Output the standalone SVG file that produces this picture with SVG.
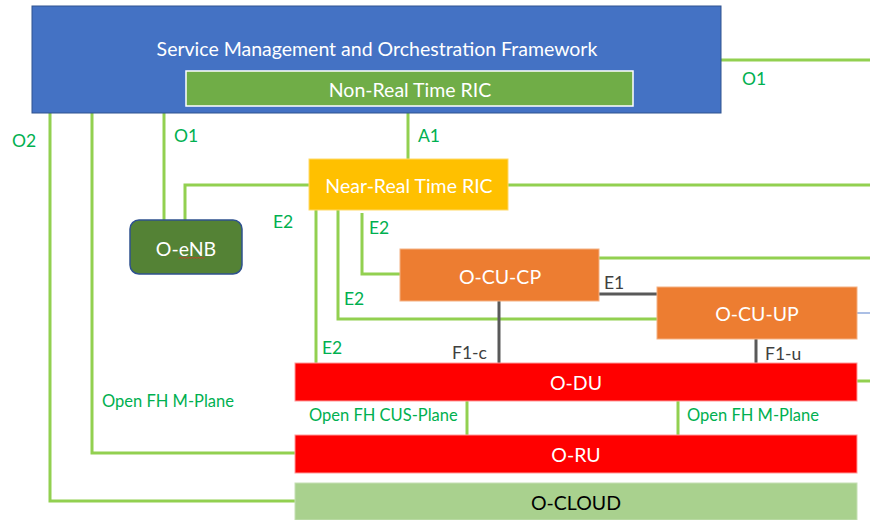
<svg xmlns="http://www.w3.org/2000/svg" width="870" height="520" viewBox="0 0 870 520">
<style>
text{font-family:Lato,"Open Sans","Liberation Sans",sans-serif;}
.nt{fill:#fff;font-size:19.5px;text-anchor:middle;dominant-baseline:central}
.lb{fill:#00B050;font-size:17.5px}
.sl{fill:#00B050;font-size:16.5px}
.gl{fill:#404040;font-size:17.5px}
.g{stroke:#92D050;stroke-width:3;fill:none}
.d{stroke:#595959;stroke-width:3;fill:none}
</style>
<g id="connectors">
<path class="g" d="M720,60H870"/>
<path class="g" d="M50,113V501H296"/>
<path class="g" d="M92,113V453H296"/>
<path class="g" d="M164,113V220"/>
<path class="g" d="M408,113V159"/>
<path class="g" d="M309,185H185V220"/>
<path class="g" d="M508,185H870"/>
<path class="g" d="M316,210V363"/>
<path class="g" d="M338,210V319H657"/>
<path class="g" d="M362,213V274H400"/>
<path class="g" d="M599,258H870"/>
<path class="d" d="M599,294H657"/>
<path d="M857,313H870" stroke="#8FAADC" stroke-width="1.5"/>
<path class="d" d="M499,301V363"/>
<path class="d" d="M756,339V363"/>
<path class="g" d="M857,381H870"/>
<path class="g" d="M467,401V435"/>
<path class="g" d="M678,401V435"/>
<text class="lb" x="742" y="85">O1</text>
<text class="lb" x="12" y="147">O2</text>
<text class="lb" x="174" y="142">O1</text>
<text class="lb" x="418" y="142">A1</text>
<text class="lb" x="273" y="228">E2</text>
<text class="lb" x="369" y="234">E2</text>
<text class="lb" x="344" y="305">E2</text>
<text class="lb" x="322" y="354">E2</text>
<text class="gl" x="604" y="289">E1</text>
<text class="gl" x="452" y="359">F1-c</text>
<text class="gl" x="765" y="360">F1-u</text>
<text class="sl" x="102" y="407">Open FH M-Plane</text>
<text class="sl" x="309" y="421">Open FH CUS-Plane</text>
<text class="sl" x="687" y="421">Open FH M-Plane</text>
</g>
<g id="smo">
<rect x="32" y="6" width="689" height="107" fill="#4472C4" stroke="#2F528F" stroke-width="1"/>
<text class="nt" x="377" y="48">Service Management and Orchestration Framework</text>
</g>
<g id="nonrt">
<rect x="186" y="71" width="447" height="35" fill="#70AD47" stroke="#fff" stroke-width="1.5"/>
<text class="nt" x="410" y="89">Non-Real Time RIC</text>
</g>
<g id="nearrt">
<rect x="309" y="159" width="199" height="51" fill="#FFC000" stroke="#FFD966" stroke-width="1"/>
<text class="nt" x="409" y="185">Near-Real Time RIC</text>
</g>
<g id="oenb">
<rect x="130" y="220" width="112" height="54" rx="9" fill="#548235" stroke="#2F528F" stroke-width="1.5"/>
<text class="nt" x="186" y="248">O-eNB</text>
<path d="M179,258.5l1.5,-1.5l1.5,1.5l1.5,-1.5l1.5,1.5l1.5,-1.5l1.5,1.5l1.5,-1.5l1.5,1.5l1.5,-1.5l1.5,1.5l1.5,-1.5l1.5,1.5l1.5,-1.5l1.5,1.5l1.5,-1.5l1.5,1.5l1.5,-1.5" fill="none" stroke="#E03030" stroke-width="0.8"/>
</g>
<g id="ocucp">
<rect x="400" y="249" width="199" height="52" fill="#ED7D31" stroke="#F4B183" stroke-width="1"/>
<text class="nt" x="500" y="276">O-CU-CP</text>
</g>
<g id="ocuup">
<rect x="657" y="287" width="200" height="52" fill="#ED7D31" stroke="#F4B183" stroke-width="1"/>
<text class="nt" x="757" y="313">O-CU-UP</text>
</g>
<g id="odu">
<rect x="295" y="363" width="562" height="38" fill="#FF0000" stroke="#FF9999" stroke-width="1"/>
<text class="nt" x="576" y="382">O-DU</text>
</g>
<g id="oru">
<rect x="295" y="435" width="562" height="38" fill="#FF0000" stroke="#FF9999" stroke-width="1"/>
<text class="nt" x="576" y="454">O-RU</text>
</g>
<g id="ocloud">
<rect x="295" y="483" width="562" height="37" fill="#A9D18E" stroke="#C5E0B4" stroke-width="1"/>
<text class="nt" x="576" y="502" style="fill:#000">O-CLOUD</text>
</g>
</svg>
